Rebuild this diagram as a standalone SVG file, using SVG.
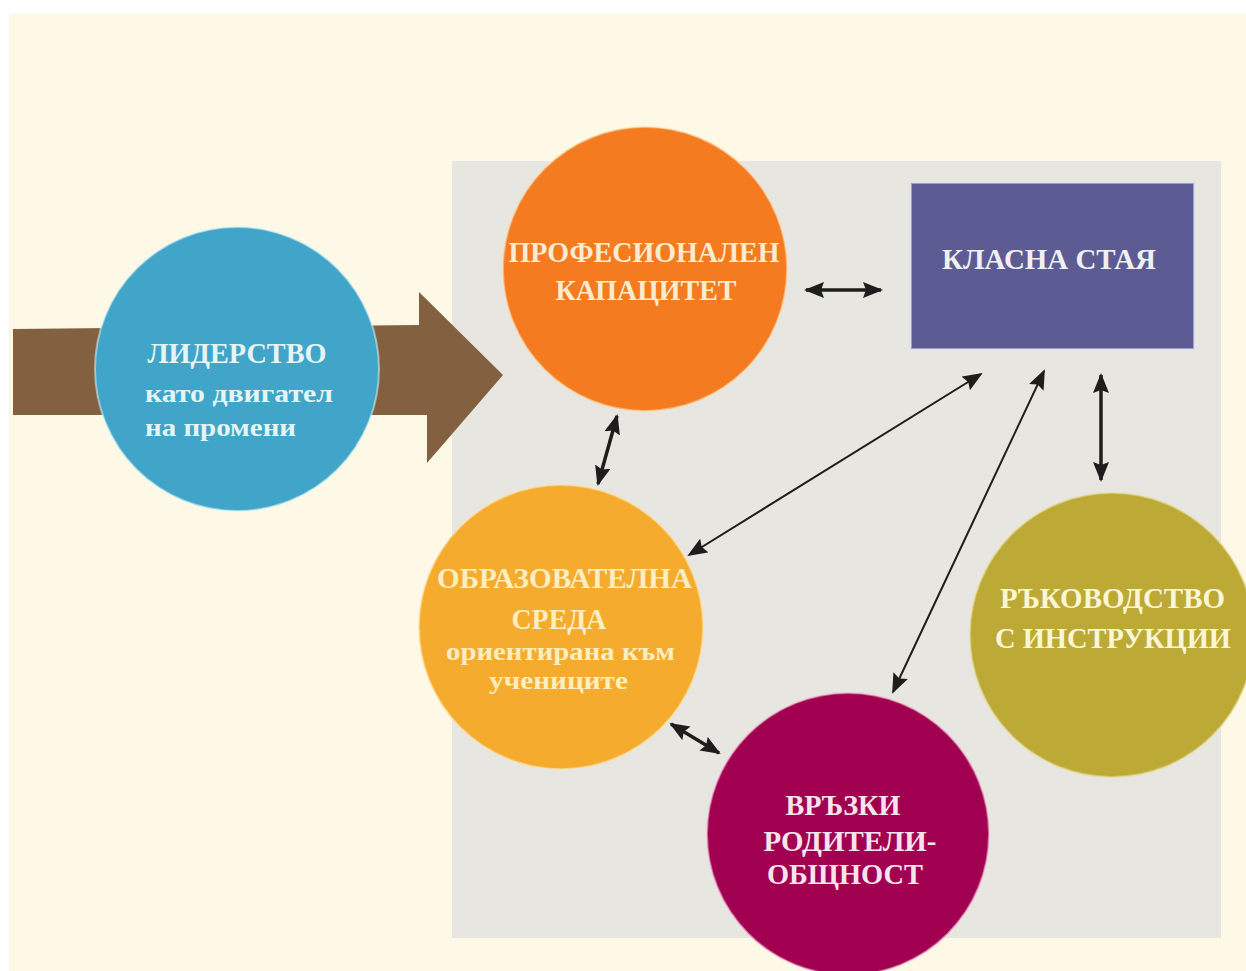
<svg xmlns="http://www.w3.org/2000/svg" width="1246" height="971" viewBox="0 0 1246 971">
<style>
text{font-family:"Liberation Serif","DejaVu Serif",serif;font-weight:bold;text-anchor:middle}
.h{font-size:29px}
.s{font-size:26px}
.c{fill:none;stroke:#1d1d1b}
.thin{stroke-width:2}
.thick{stroke-width:3.5}
.n{stroke-width:2;stroke-opacity:.55}
</style>
<defs>
<marker id="a" viewBox="0 0 10 10" refX="9" refY="5" markerWidth="20" markerHeight="16" markerUnits="userSpaceOnUse" orient="auto-start-reverse" preserveAspectRatio="none"><path d="M0 0L10 5L0 10L1.5 5Z" fill="#1d1d1b"/></marker>
</defs>
<rect width="1246" height="971" fill="#ffffff"/>
<rect x="9" y="14" width="1237" height="957" fill="#fef8e7"/>
<rect x="452" y="161" width="769" height="777" fill="#e8e6e0"/>
<path id="big-arrow" d="M13 329L419 325V292L503 375L427 463V415L13 415Z" fill="#83603f"/>
<g id="connectors">
<line class="c thick" x1="806" y1="290" x2="881" y2="290" marker-start="url(#a)" marker-end="url(#a)"/>
<line class="c thick" x1="1101" y1="375" x2="1101" y2="480" marker-start="url(#a)" marker-end="url(#a)"/>
<line class="c thick" x1="617" y1="416" x2="598" y2="484" marker-start="url(#a)" marker-end="url(#a)"/>
<line class="c thin" x1="981" y1="374" x2="689" y2="555" marker-start="url(#a)" marker-end="url(#a)"/>
<line class="c thin" x1="1044" y1="371" x2="893" y2="692" marker-start="url(#a)" marker-end="url(#a)"/>
<line class="c thick" x1="671" y1="724" x2="719" y2="753" marker-start="url(#a)" marker-end="url(#a)"/>
</g>
<g id="leadership">
<circle class="n" cx="237" cy="369" r="142" fill="#41a5c9" stroke="#d8f4f4"/>
<text class="h" x="237" y="363" fill="#e4f5f4" textLength="179" lengthAdjust="spacingAndGlyphs">ЛИДЕРСТВО</text>
<text class="s" x="239" y="402" fill="#e4f5f4" textLength="188" lengthAdjust="spacingAndGlyphs">като двигател</text>
<text class="s" x="220.500" y="436" fill="#e4f5f4" textLength="151" lengthAdjust="spacingAndGlyphs">на промени</text>
</g>
<g id="capacity">
<circle class="n" cx="645" cy="269" r="142" fill="#f47b20" stroke="#fbd9a8"/>
<text class="h" x="644" y="262" fill="#fdebd0" textLength="271" lengthAdjust="spacingAndGlyphs">ПРОФЕСИОНАЛЕН</text>
<text class="h" x="646" y="300" fill="#fdebd0" textLength="181" lengthAdjust="spacingAndGlyphs">КАПАЦИТЕТ</text>
</g>
<g id="classroom">
<rect class="n" x="911" y="183" width="283" height="166" fill="#5d5b94" stroke="#d5d8ee"/>
<text class="h" x="1049" y="269" fill="#f0f0f0" textLength="214" lengthAdjust="spacingAndGlyphs">КЛАСНА СТАЯ</text>
</g>
<g id="environment">
<circle class="n" cx="561" cy="627" r="142" fill="#f5ab2e" stroke="#fde2a0"/>
<text class="h" x="564.500" y="588" fill="#fdeec0" textLength="255" lengthAdjust="spacingAndGlyphs">ОБРАЗОВАТЕЛНА</text>
<text class="h" x="559" y="629" fill="#fdeec0" textLength="95" lengthAdjust="spacingAndGlyphs">СРЕДА</text>
<text class="s" x="560.500" y="660" fill="#fdeec0" textLength="229" lengthAdjust="spacingAndGlyphs">ориентирана към</text>
<text class="s" x="558.500" y="689" fill="#fdeec0" textLength="139" lengthAdjust="spacingAndGlyphs">учениците</text>
</g>
<g id="instruction">
<circle class="n" cx="1112" cy="635" r="142" fill="#bca936" stroke="#e6dc8c"/>
<text class="h" x="1112.500" y="608" fill="#fbf6d5" textLength="225" lengthAdjust="spacingAndGlyphs">РЪКОВОДСТВО</text>
<text class="h" x="1113" y="648" fill="#fbf6d5" textLength="236" lengthAdjust="spacingAndGlyphs">С ИНСТРУКЦИИ</text>
</g>
<g id="community">
<circle class="n" cx="848" cy="834" r="141" fill="#a10050" stroke="#f6b6d6"/>
<text class="h" x="843" y="815" fill="#fbe3ee" textLength="115" lengthAdjust="spacingAndGlyphs">ВРЪЗКИ</text>
<text class="h" x="850" y="851" fill="#fbe3ee" textLength="173" lengthAdjust="spacingAndGlyphs">РОДИТЕЛИ-</text>
<text class="h" x="845" y="884" fill="#fbe3ee" textLength="156" lengthAdjust="spacingAndGlyphs">ОБЩНОСТ</text>
</g>
</svg>
